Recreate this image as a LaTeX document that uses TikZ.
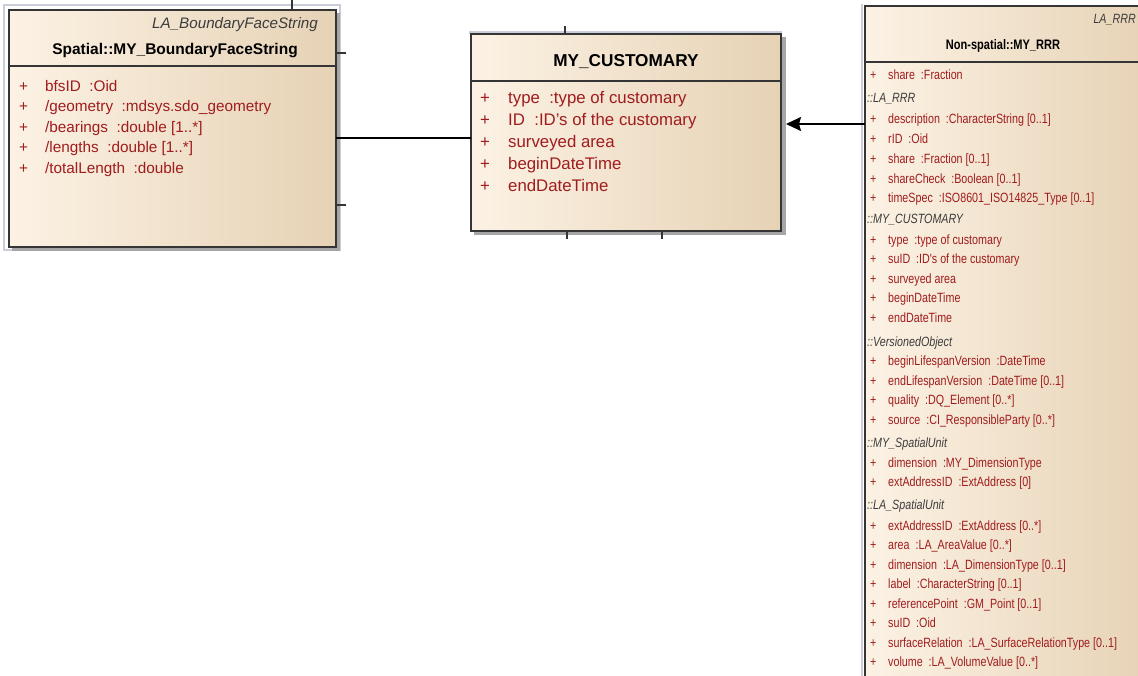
\documentclass[tikz,border=0pt]{standalone}
\usepackage{fontspec}
\setmainfont{Liberation Sans}
\newfontfamily\narrowfont[FakeStretch=0.8]{Liberation Sans}
\usetikzlibrary{arrows.meta}

\definecolor{attrred}{HTML}{A01C1E}
\definecolor{boxlight}{HTML}{FCF2E4}
\definecolor{boxdark}{HTML}{E6D2B5}
\definecolor{frameblue}{HTML}{C9CED9}
\definecolor{edgegray}{HTML}{353535}
\definecolor{stereogray}{HTML}{3C3C3C}

\tikzset{
  classbox/.style={draw=edgegray, line width=1.4pt, left color=boxlight,
    right color=boxdark, inner sep=0pt, outer sep=0pt, anchor=north west},
  boxshadow/.style={fill=black!35, draw=none},
  boxframe/.style={draw=frameblue, line width=1.2pt},
  divider/.style={draw=edgegray, line width=1.3pt},
  stub/.style={draw=edgegray, line width=1.3pt},
  assoc/.style={draw=black, line width=1.5pt},
  dependency/.style={draw=black, line width=1.6pt,
    -{Stealth[length=15pt,width=14pt,inset=2pt]}},
  % left class
  attrL/.style={anchor=base west, text=attrred, inner sep=0pt,
    font=\fontsize{15.3}{17}\selectfont},
  % middle class
  attrM/.style={anchor=base west, text=attrred, inner sep=0pt,
    font=\fontsize{16.8}{19}\selectfont},
  % right class
  attrR/.style={anchor=base west, text=attrred, inner sep=0pt,
    font=\narrowfont\fontsize{13.4}{15}\selectfont},
  sectR/.style={anchor=base west, text=stereogray, inner sep=0pt,
    font=\narrowfont\itshape\fontsize{13.4}{15}\selectfont},
  stereo/.style={anchor=base east, text=stereogray, inner sep=0pt,
    font=\itshape\fontsize{15.2}{17}\selectfont},
  title/.style={anchor=base, text=black, inner sep=0pt,
    font=\bfseries\fontsize{15.5}{17}\selectfont},
}

\begin{document}
\begin{tikzpicture}[x=1pt,y=-1pt]
\useasboundingbox (0,0) rectangle (1138,675);
\clip (0,0) rectangle (1138,675);
\fill[white] (0,0) rectangle (1138,675);

% ---------- Spatial::MY_BoundaryFaceString ----------
\draw[boxframe] (4,5) rectangle (340,250);
\fill[boxshadow] (12,13) rectangle (340,251);
\node[classbox, minimum width=327pt, minimum height=237pt] (bfs) at (9,10) {};
\draw[divider] (bfs.west |- 0,66) -- (bfs.east |- 0,66);
\node[stereo] (bfsst) at (318,28) {LA\_BoundaryFaceString};
\node[title] (bfst) at (175,54.5) {Spatial::MY\_BoundaryFaceString};
\foreach \t [count=\i] in {{bfsID~ :Oid},{/geometry~ :mdsys.sdo\_geometry},
  {/bearings~ :double [1..*]},{/lengths~ :double [1..*]},{/totalLength~ :double}}{
  \node[attrL] (bfsp\i) at (19,{91.5+20.4*(\i-1)}) {+};
  \node[attrL] (bfsa\i) at (45,{91.5+20.4*(\i-1)}) {\t};
}
\coordinate (bfstop) at (292,0);
\draw[stub] (bfstop) -- (bfs.north -| bfstop);
\coordinate (bfsr1) at (346,53);
\draw[stub] (bfs.east |- bfsr1) -- (bfsr1);
\coordinate (bfsr2) at (346,205);
\draw[stub] (bfs.east |- bfsr2) -- (bfsr2);

% ---------- MY_CUSTOMARY ----------
\fill[frameblue] (469,31) rectangle (782,34);
\fill[boxshadow] (474,37) rectangle (786,235);
\node[classbox, minimum width=310pt, minimum height=197pt] (cust) at (471,34) {};
\draw[divider] (cust.west |- 0,81) -- (cust.east |- 0,81);
\node[title, font=\bfseries\fontsize{17.2}{19}\selectfont] (custt) at (626,66) {MY\_CUSTOMARY};
\foreach \t [count=\i] in {{type~ :type of customary},{ID~ :ID's of the customary},
  {surveyed area},{beginDateTime},{endDateTime}}{
  \node[attrM] (custp\i) at (480,{103+22*(\i-1)}) {+};
  \node[attrM] (custa\i) at (508,{103+22*(\i-1)}) {\t};
}
\coordinate (custtop) at (565,26);
\draw[stub] (custtop) -- (cust.north -| custtop);
\coordinate (custb1) at (567,239);
\draw[stub] (cust.south -| custb1) -- (custb1);
\coordinate (custb2) at (662,239);
\draw[stub] (cust.south -| custb2) -- (custb2);

% ---------- Non-spatial::MY_RRR ----------
\draw[frameblue, line width=2pt] (862,4) -- (862,680);
\node[classbox, minimum width=290pt, minimum height=700pt] (rrr) at (865,6) {};
\draw[divider] (rrr.west |- 0,62) -- (rrr.east |- 0,62);
\node[stereo, font=\narrowfont\itshape\fontsize{13.4}{15}\selectfont] (rrrst) at (1136,23) {LA\_RRR};
\node[title, font=\narrowfont\bfseries\fontsize{13.8}{15}\selectfont] (rrrt) at (1003,49) {Non-spatial::MY\_RRR};
\foreach \y/\t [count=\i] in {
  75/{share~ :Fraction},
  119/{description~ :CharacterString [0..1]},
  139/{rID~ :Oid},
  159/{share~ :Fraction [0..1]},
  179/{shareCheck~ :Boolean [0..1]},
  198/{timeSpec~ :ISO8601\_ISO14825\_Type [0..1]},
  240/{type~ :type of customary},
  259/{suID~ :ID's of the customary},
  279/{surveyed area},
  298/{beginDateTime},
  318/{endDateTime},
  361/{beginLifespanVersion~ :DateTime},
  381/{endLifespanVersion~ :DateTime [0..1]},
  400/{quality~ :DQ\_Element [0..*]},
  420/{source~ :CI\_ResponsibleParty [0..*]},
  463/{dimension~ :MY\_DimensionType},
  482/{extAddressID~ :ExtAddress [0]},
  526/{extAddressID~ :ExtAddress [0..*]},
  545/{area~ :LA\_AreaValue [0..*]},
  565/{dimension~ :LA\_DimensionType [0..1]},
  584/{label~ :CharacterString [0..1]},
  604/{referencePoint~ :GM\_Point [0..1]},
  623/{suID~ :Oid},
  643/{surfaceRelation~ :LA\_SurfaceRelationType [0..1]},
  662/{volume~ :LA\_VolumeValue [0..*]}}{
  \node[attrR] (rrrp\i) at (870,\y+4.8) {+};
  \node[attrR] (rrra\i) at (888,\y+4.8) {\t};
}
\foreach \y/\t [count=\i] in {98/{::LA\_RRR},219/{::MY\_CUSTOMARY},
  342/{::VersionedObject},443/{::MY\_SpatialUnit},505/{::LA\_SpatialUnit}}{
  \node[sectR] (rrrs\i) at (867,\y+4.8) {\t};
}

% ---------- connectors ----------
\draw[assoc] (bfs.east |- 0,138) -- (cust.west |- 0,138);
\draw[dependency] (rrr.west |- 0,124) -- ([xshift=5pt]cust.east |- 0,124);
\end{tikzpicture}
\end{document}
